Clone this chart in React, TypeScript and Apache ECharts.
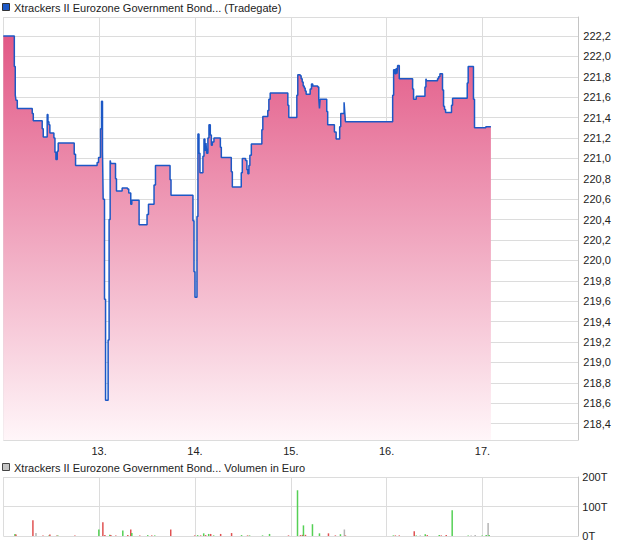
import React, { useEffect, useRef } from 'react';
import * as echarts from 'echarts';

// Price series (time in fractional day of month, value in EUR)
const priceTimes = [
  12.0, 12.115, 12.125, 12.132, 12.146, 12.302, 12.313, 12.406, 12.417, 12.458,
  12.466, 12.476, 12.486, 12.528, 12.539, 12.549, 12.563, 12.573, 12.74, 12.754,
  12.979, 12.994, 13.015, 13.025, 13.035, 13.042, 13.056, 13.067, 13.094, 13.104,
  13.115, 13.122, 13.171, 13.181, 13.24, 13.296, 13.309, 13.33, 13.341, 13.417,
  13.5, 13.515, 13.573, 13.588, 13.74, 13.75, 13.979, 13.99, 14.0, 14.021,
  14.031, 14.042, 14.052, 14.083, 14.094, 14.104, 14.115, 14.122, 14.135, 14.146,
  14.16, 14.171, 14.181, 14.198, 14.265, 14.275, 14.379, 14.39, 14.483, 14.494,
  14.528, 14.542, 14.552, 14.563, 14.573, 14.588, 14.698, 14.708, 14.76, 14.771,
  14.785, 14.969, 14.979, 15.063, 15.073, 15.098, 15.108, 15.119, 15.129, 15.14,
  15.15, 15.16, 15.202, 15.216, 15.229, 15.281, 15.292, 15.299, 15.306, 15.375,
  15.385, 15.455, 15.473, 15.51, 15.521, 15.556, 15.563, 15.57, 16.063, 16.073,
  16.088, 16.098, 16.108, 16.115, 16.132, 16.271, 16.281, 16.309, 16.4, 16.41,
  16.417, 16.531, 16.542, 16.556, 16.583, 16.594, 16.604, 16.615, 16.677, 16.688,
  16.841, 16.851, 16.906, 16.917, 16.983, 17.035, 17.088
];
const priceValues = [
  222.2, 221.9, 221.62, 221.57, 221.49, 221.44, 221.37, 221.29, 221.21, 221.43,
  221.36, 221.33, 221.25, 221.2, 221.06, 220.99, 221.07, 221.15, 221.04, 220.93,
  220.96, 221.01, 221.29, 221.56, 221.08, 220.6, 219.62, 218.63, 219.22, 220.4,
  220.98, 220.95, 220.8, 220.68, 220.71, 220.7, 220.66, 220.55, 220.59, 220.35,
  220.45, 220.55, 220.74, 220.93, 220.79, 220.64, 220.39, 219.89, 219.64, 220.43,
  221.24, 221.05, 220.86, 221.02, 221.19, 221.08, 221.15, 221.05, 221.2, 221.33,
  221.23, 221.13, 221.16, 221.2, 221.11, 221.01, 220.87, 220.72, 220.86, 221.0,
  220.98, 220.89, 220.85, 220.93, 221.03, 221.14, 221.28, 221.41, 221.47, 221.58,
  221.64, 221.52, 221.4, 221.62, 221.82, 221.81, 221.78, 221.75, 221.71, 221.69,
  221.66, 221.63, 221.68, 221.73, 221.71, 221.7, 221.58, 221.49, 221.58, 221.46,
  221.33, 221.26, 221.19, 221.31, 221.44, 221.55, 221.45, 221.36, 221.62, 221.87,
  221.83, 221.88, 221.83, 221.91, 221.78, 221.68, 221.58, 221.61, 221.7, 221.78,
  221.76, 221.78, 221.8, 221.83, 221.67, 221.51, 221.48, 221.45, 221.52, 221.59,
  221.74, 221.9, 221.58, 221.3, 221.3, 221.31, 221.31
];

// Volume series (thousands of EUR, "T")
const volumeTimes = [
  12.122, 12.132, 12.309, 12.341, 12.414, 12.476, 12.486, 12.559, 12.57, 12.747,
  12.997, 13.039, 13.06, 13.111, 13.122, 13.174, 13.247, 13.299, 13.33, 13.341,
  13.424, 13.507, 13.549, 13.58, 13.747, 13.997, 14.028, 14.059, 14.091, 14.111,
  14.143, 14.164, 14.195, 14.268, 14.382, 14.486, 14.549, 14.57, 14.705, 14.778,
  14.976, 15.07, 15.101, 15.122, 15.132, 15.153, 15.226, 15.299, 15.393, 15.465,
  15.518, 15.559, 15.57, 16.07, 16.091, 16.132, 16.288, 16.309, 16.351, 16.403,
  16.424, 16.549, 16.57, 16.622, 16.684, 16.851, 16.882, 16.924, 16.997, 17.039,
  17.059, 17.07
];
const volumeValues = [
  7, 5, 53, 10, 2, 2, 5, 2, 2, 2,
  22, 47, 3, 4, 3, 2, 19, 3, 22, 10,
  2, 3, 2, 2, 22, 2, 3, 2, 9, 3,
  7, 7, 2, 7, 10, 3, 2, 2, 2, 7,
  2, 155, 3, 4, 36, 4, 40, 9, 9, 2,
  6, 22, 2, 2, 2, 2, 16, 2, 2, 6,
  3, 3, 2, 3, 87, 2, 2, 3, 2, 3,
  44, 3
];
// u = up (green), d = down (red), n = neutral (grey)
const volumeDirs = [
  'u', 'd', 'd', 'n', 'd', 'u', 'd', 'd', 'u', 'd',
  'u', 'd', 'd', 'u', 'd', 'd', 'u', 'd', 'd', 'u',
  'd', 'u', 'd', 'u', 'd', 'd', 'u', 'd', 'u', 'd',
  'u', 'd', 'u', 'd', 'd', 'u', 'd', 'u', 'u', 'u',
  'd', 'u', 'd', 'd', 'u', 'd', 'u', 'u', 'd', 'd',
  'u', 'n', 'd', 'u', 'd', 'd', 'd', 'u', 'n', 'u',
  'd', 'u', 'd', 'd', 'u', 'u', 'n', 'n', 'u', 'u',
  'n', 'u'
];

const instrumentName = 'Xtrackers II Eurozone Government Bond...';
const priceLegend = instrumentName + ' (Tradegate)';
const volumeLegend = instrumentName + ' Volumen in Euro';

const FONT = '"Liberation Sans", Arial, sans-serif';
const dirColor: Record<string, string> = { u: '#55d055', d: '#e05252', n: '#b4b4b4' };

export default function App() {
  const ref = useRef<HTMLDivElement>(null);
  useEffect(() => {
    if (!ref.current) return;
    const chart = echarts.init(ref.current, undefined, { renderer: 'svg' });
    const gridColor = '#dcdcdc';
    const axisColor = '#c4c4c4';
    const labelColor = '#222';
    chart.setOption({
      animation: false,
      textStyle: { fontFamily: FONT },
      grid: [
        { left: 3.3, right: 41.7, top: 17, height: 423 },
        { left: 3.3, right: 41.7, top: 477, height: 59 },
      ],
      xAxis: [
        {
          type: 'value', gridIndex: 0, min: 12, max: 18, interval: 1,
          axisLine: { show: false }, axisTick: { show: false },
          splitLine: { show: true, lineStyle: { color: gridColor } },
          axisLabel: {
            formatter: (v: number) => v + '.', showMinLabel: false, showMaxLabel: false,
            color: labelColor, fontSize: 11, fontFamily: FONT, margin: 5,
          },
        },
        {
          type: 'value', gridIndex: 1, min: 12, max: 18, interval: 1,
          axisLine: { show: false }, axisTick: { show: false },
          splitLine: { show: true, lineStyle: { color: gridColor } },
          axisLabel: { show: false },
        },
      ],
      yAxis: [
        {
          type: 'value', gridIndex: 0, position: 'right', min: 218.24, max: 222.386,
          splitNumber: 20,
          axisLine: { show: true, lineStyle: { color: axisColor } }, axisTick: { show: false },
          splitLine: { show: true, lineStyle: { color: gridColor } },
          axisLabel: {
            showMinLabel: false, showMaxLabel: false, color: labelColor, fontSize: 11,
            fontFamily: FONT, margin: 5,
            formatter: (v: number) => v.toFixed(1).replace('.', ','),
          },
        },
        {
          type: 'value', gridIndex: 1, position: 'right', min: 0, max: 200, interval: 100,
          axisLine: { show: true, lineStyle: { color: axisColor } }, axisTick: { show: false },
          splitLine: { show: true, lineStyle: { color: gridColor } },
          axisLabel: {
            color: labelColor, fontSize: 11, fontFamily: FONT, margin: 4,
            formatter: (v: number) => v + 'T',
          },
        },
      ],
      series: [
        {
          type: 'line', xAxisIndex: 0, yAxisIndex: 0, step: 'end', symbol: 'none',
          data: priceTimes.map((t, i) => [t, priceValues[i]]),
          lineStyle: { color: '#1c58c6', width: 1.5 },
          areaStyle: {
            origin: 'start',
            opacity: 1,
            color: new echarts.graphic.LinearGradient(0, 0, 0, 1, [
              { offset: 0, color: '#e25886' },
              { offset: 1, color: '#fff6f9' },
            ]),
          },
        },
        {
          type: 'bar', xAxisIndex: 1, yAxisIndex: 1, barWidth: 1.5,
          data: volumeTimes.map((t, i) => ({
            value: [t, volumeValues[i]],
            itemStyle: { color: dirColor[volumeDirs[i]] },
          })),
        },
      ],
      graphic: [
        { type: 'rect', shape: { x: 2.5, y: 3.5, width: 7, height: 7 }, style: { fill: '#1c58c6', stroke: '#333', lineWidth: 1 } },
        { type: 'text', x: 14, y: 7.5, style: { text: priceLegend, font: '11px ' + FONT, fill: '#222', verticalAlign: 'middle' } },
        { type: 'rect', shape: { x: 2.5, y: 463.5, width: 7, height: 7 }, style: { fill: '#c4c4c4', stroke: '#444', lineWidth: 1 } },
        { type: 'text', x: 14, y: 467.5, style: { text: volumeLegend, font: '11px ' + FONT, fill: '#222', verticalAlign: 'middle' } },
      ],
    });
    return () => chart.dispose();
  }, []);
  return <div ref={ref} style={{ position: 'absolute', left: 0, top: 0, width: 620, height: 546 }} />;
}
